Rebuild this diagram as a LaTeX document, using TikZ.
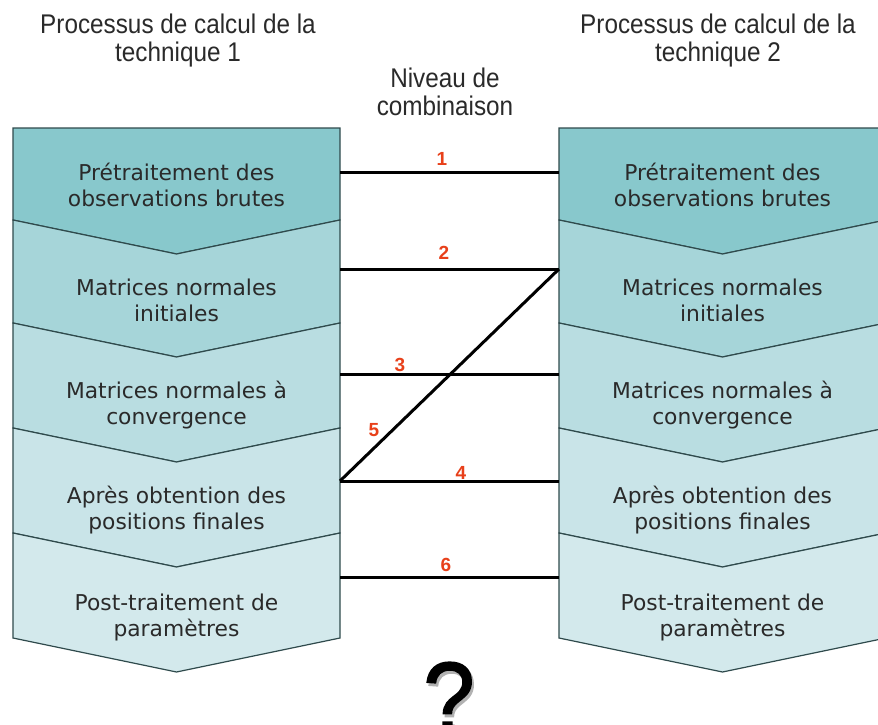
\documentclass[tikz,border=0pt]{standalone}
\usepackage{fontspec}
\setmainfont{DejaVu Sans}
\newfontfamily\titlefont[FakeStretch=0.9]{Liberation Sans}
\newfontfamily\numfont{Liberation Sans}
\newfontfamily\qfont[FakeStretch=0.92,FakeBold=1.6]{Liberation Sans}
\definecolor{sA}{HTML}{88C8CC}
\definecolor{sB}{HTML}{A6D5D9}
\definecolor{sC}{HTML}{B9DDE1}
\definecolor{sD}{HTML}{C9E4E8}
\definecolor{sE}{HTML}{D3E9EC}
\definecolor{edge}{HTML}{2F4A4C}
\definecolor{txt}{HTML}{2A2A2A}
\definecolor{numred}{HTML}{E8401A}
\newcommand\mystage[5]{%
  \filldraw[fill=#4,draw=edge,line width=1.2pt,line join=miter]
    (#1,#2) -- ({#1+163.5},{#2+#5}) -- ({#1+327},#2) -- ({#1+327},#3)
    -- ({#1+163.5},{#3+34}) -- (#1,#3) -- cycle;}
\tikzset{
  stagetext/.style={align=center,text=txt,inner sep=0pt,
    font=\fontsize{21.8}{26}\selectfont},
  titletext/.style={align=center,text=txt,inner sep=0pt,
    font=\titlefont\fontsize{27}{28}\selectfont},
  numlabel/.style={text=numred,inner sep=0pt,
    font=\numfont\bfseries\fontsize{19}{19}\selectfont},
  conn/.style={draw=black,line width=3pt}
}
\begin{document}
\begin{tikzpicture}[x=1pt,y=-1pt]
\useasboundingbox (0,0) rectangle (878,725);
\fill[white] (0,0) rectangle (878,725);
% columns
\foreach \L in {13,559}{
  \mystage{\L}{128}{220}{sA}{0}
  \mystage{\L}{220}{323}{sB}{34}
  \mystage{\L}{323}{428}{sC}{34}
  \mystage{\L}{428}{533}{sD}{34}
  \mystage{\L}{533}{638}{sE}{34}
}
% titles
\node[titletext] (tl) at (178,41) {Processus de calcul de la\\technique 1};
\node[titletext] (tr) at (718,41) {Processus de calcul de la\\technique 2};
\node[titletext] (tm) at (445,92) {Niveau de\\combinaison};
% stage texts
\node[stagetext] (l1) at (176.5,185) {Prétraitement des\\observations brutes};
\node[stagetext] (l2) at (176.5,300) {Matrices normales\\initiales};
\node[stagetext] (l3) at (176.5,405) {Matrices normales à\\convergence};
\node[stagetext] (l4) at (176.5,510) {Après obtention des\\positions finales};
\node[stagetext] (l5) at (176.5,617) {Post-traitement de\\paramètres};
\node[stagetext] (r1) at (722.5,185) {Prétraitement des\\observations brutes};
\node[stagetext] (r2) at (722.5,300) {Matrices normales\\initiales};
\node[stagetext] (r3) at (722.5,405) {Matrices normales à\\convergence};
\node[stagetext] (r4) at (722.5,510) {Après obtention des\\positions finales};
\node[stagetext] (r5) at (722.5,617) {Post-traitement de\\paramètres};
% connection points
\coordinate (a1) at (340,172); \coordinate (b1) at (559,172);
\coordinate (a2) at (340,269); \coordinate (b2) at (559,269);
\coordinate (a3) at (340,374); \coordinate (b3) at (559,374);
\coordinate (a4) at (340,481); \coordinate (b4) at (559,481);
\coordinate (a6) at (340,577); \coordinate (b6) at (559,577);
\draw[conn] (a1) -- (b1);
\draw[conn] (a2) -- (b2);
\draw[conn] (a3) -- (b3);
\draw[conn] (a4) -- (b4);
\draw[conn] (a6) -- (b6);
\draw[conn,line join=miter] (a4) -- (b2);
% numbers
\node[numlabel] (n1) at (442,159) {1};
\node[numlabel] (n2) at (444,253) {2};
\node[numlabel] (n3) at (400,365) {3};
\node[numlabel] (n5) at (374,430) {5};
\node[numlabel] (n4) at (461,473) {4};
\node[numlabel] (n6) at (446,565) {6};
% question mark (with its grey shadow)
\node[anchor=base,inner sep=0pt,text=black!30,
  font=\qfont\fontsize{100}{100}\selectfont] (qs) at (451,735) {?};
\node[anchor=base,inner sep=0pt,text=black,
  font=\qfont\fontsize{100}{100}\selectfont] (q) at (449,732) {?};
\end{tikzpicture}
\end{document}
